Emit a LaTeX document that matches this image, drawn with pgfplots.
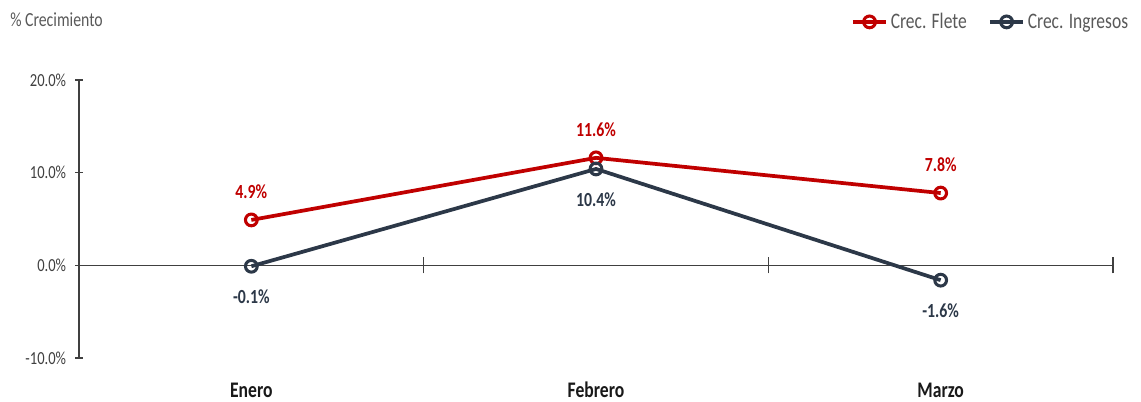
\documentclass[border=0pt]{standalone}
\usepackage{fontspec}
\setmainfont{Carlito}[FakeStretch=0.79]
\usepackage{pgfplots}
\pgfplotsset{compat=1.18}
\definecolor{cred}{RGB}{192,0,0}
\definecolor{cdark}{RGB}{44,56,72}
\definecolor{tgray}{RGB}{89,89,89}
\definecolor{tdark}{RGB}{64,64,64}
\begin{document}
\begin{tikzpicture}
\path[use as bounding box] (0,0) rectangle (855.75pt,300.75pt);
\node[anchor=west, text=tgray, font=\fontsize{15pt}{17pt}\selectfont, inner sep=0pt] at (7.5pt,285.75pt) {\% Crecimiento};
\begin{axis}[
  at={(59.25pt,32.25pt)}, anchor=south west,
  width=775.5pt, height=208.5pt, scale only axis,
  xmin=-0.5, xmax=2.5, ymin=-10, ymax=20,
  axis y line*=left, axis x line*=bottom,
  x axis line style={draw=none},
  y axis line style={-, draw=tdark, line width=1pt},
  ytick={-10,0,10,20},
  xtick={0,1,2}, xticklabels={Enero,Febrero,Marzo},
  x tick style={draw=none},
  y tick style={draw=tdark, line width=1pt},
  major tick length=6pt, tick align=center,
  /pgf/number format/assume math mode=true,
  yticklabel={\pgfmathprintnumber[fixed,fixed zerofill,precision=1]{\tick}\%},
  yticklabel style={text=tdark, font=\fontsize{13.8pt}{16pt}\selectfont, anchor=east, inner sep=0pt, xshift=-6.5pt},
  xticklabel style={text=black!90, font=\bfseries\fontsize{16.7pt}{19pt}\selectfont, anchor=center, inner sep=0pt, yshift=-21pt},
  clip=false,
  nodes near coords={\pgfmathprintnumber[fixed,fixed zerofill,precision=1]{\pgfplotspointmeta}\%},
  every node near coord/.append style={font=\bfseries\fontsize{15pt}{17pt}\selectfont, anchor=center},
  legend columns=2,
  legend style={at={(axis description cs:1.0174,1.209)}, anchor=east, draw=none, fill=none,
    font=\fontsize{16.6pt}{19pt}\selectfont, text=tgray, inner sep=0pt,
    /tikz/every even column/.append style={column sep=14pt}},
  legend image code/.code={\draw[#1, mark repeat=2, mark phase=2] plot coordinates {(0pt,0pt) (12.5pt,0pt) (25pt,0pt)};},
]
\draw[tdark, line width=1pt] (axis cs:-0.5,0) -- (axis cs:2.5,0);
\draw[tdark, line width=1pt] ([yshift=-6pt]axis cs:0.5,0) -- ([yshift=6pt]axis cs:0.5,0);
\draw[tdark, line width=1pt] ([yshift=-6pt]axis cs:1.5,0) -- ([yshift=6pt]axis cs:1.5,0);
\draw[tdark, line width=1pt] ([yshift=-6pt]axis cs:2.5,0) -- ([yshift=6pt]axis cs:2.5,0);
\addplot[cred, line width=2.8pt, mark=o, mark size=4.4pt, mark options={fill=white, line width=2.3pt},
  every node near coord/.append style={text=cred, yshift=21pt}]
  coordinates {(0,4.9) (1,11.6) (2,7.8)};
\addlegendentry{Crec. Flete}
\addplot[cdark, line width=2.8pt, mark=o, mark size=4.4pt, mark options={fill=white, line width=2.3pt},
  every node near coord/.append style={text=cdark, yshift=-23pt}]
  coordinates {(0,-0.1) (1,10.4) (2,-1.6)};
\addlegendentry{Crec. Ingresos}
\end{axis}
\end{tikzpicture}
\end{document}
